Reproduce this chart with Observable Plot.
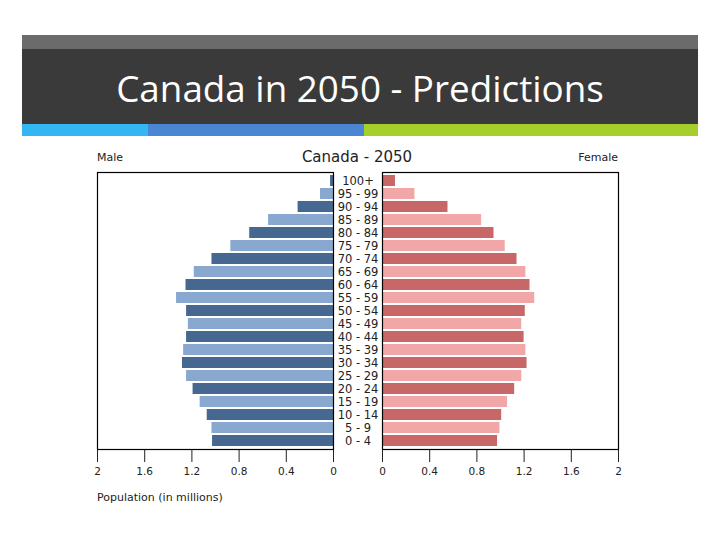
<!DOCTYPE html>
<html>
<head>
<meta charset="utf-8">
<script src="https://cdn.jsdelivr.net/npm/d3@7"></script>
<script src="https://cdn.jsdelivr.net/npm/@observablehq/plot@0.6"></script>
<style>
  html, body { margin: 0; padding: 0; background: #fff; }
  #page { position: relative; width: 720px; height: 540px; overflow: hidden; background: #fff; font-family: "DejaVu Sans", sans-serif; }
  .abs { position: absolute; }
  #title { position: absolute; left: 22px; width: 676px; top: 51px; height: 75px; line-height: 75px; text-align: center; color: #fff; font-family: "Open Sans", sans-serif; font-size: 36.8px; white-space: nowrap; }
</style>
</head>
<body>
<div id="page">
  <div class="abs" style="left:22px;top:35px;width:676px;height:14px;background:#6b6b6b"></div>
  <div class="abs" style="left:22px;top:49px;width:676px;height:75px;background:#3a3a3a"></div>
  <div class="abs" style="left:22px;top:124px;width:126px;height:12px;background:#33b6f2"></div>
  <div class="abs" style="left:148px;top:124px;width:216px;height:12px;background:#4a86d1"></div>
  <div class="abs" style="left:364px;top:124px;width:334px;height:12px;background:#a6cf2c"></div>
  <div id="title">Canada in 2050 - Predictions</div>
  <div id="male" class="abs" style="left:0;top:0"></div>
  <div id="female" class="abs" style="left:333px;top:0"></div>
  <div class="abs" style="left:97px;top:151px;font-size:11px;color:#222">Male</div>
  <div class="abs" style="left:257px;width:200px;text-align:center;top:148px;font-size:15px;color:#222">Canada - 2050</div>
  <div class="abs" style="left:518px;width:100px;text-align:right;top:151px;font-size:11px;color:#222">Female</div>
  <div class="abs" style="left:97px;top:491px;font-size:11px;color:#222">Population (in millions)</div>
</div>
<script>
const ages = ["100+","95 - 99","90 - 94","85 - 89","80 - 84","75 - 79","70 - 74","65 - 69","60 - 64","55 - 59","50 - 54","45 - 49","40 - 44","35 - 39","30 - 34","25 - 29","20 - 24","15 - 19","10 - 14","5 - 9","0 - 4"];
const male = [0.025,0.11,0.30,0.55,0.71,0.87,1.03,1.18,1.25,1.33,1.245,1.23,1.245,1.27,1.28,1.245,1.19,1.13,1.07,1.03,1.025];
const female = [0.11,0.275,0.555,0.84,0.945,1.04,1.14,1.215,1.25,1.29,1.21,1.18,1.20,1.215,1.225,1.18,1.12,1.06,1.01,0.995,0.975];
const xTicks = [0, 0.4, 0.8, 1.2, 1.6, 2];
const maleColors = ["#46678f", "#88a8cf"];
const femaleColors = ["#c86767", "#f1a7a7"];

const rows = ages.map((age, i) => ({age, male: male[i], female: female[i], shade: i % 2}));

const common = {
  height: 540,
  marginTop: 172,
  marginBottom: 91,
  style: {fontFamily: "DejaVu Sans, sans-serif", fontSize: "10.5px", color: "#222", background: "transparent"},
  y: {domain: ages, padding: 0.14, axis: null}
};

const malePlot = Plot.plot({
  ...common,
  width: 360,
  marginLeft: 97,
  marginRight: 27,
  x: {domain: [0, 2], reverse: true, ticks: xTicks, tickFormat: d => String(d), tickSize: 13, tickPadding: 5, label: null},
  marks: [
    Plot.barX(rows, {x1: 0, x2: "male", y: "age", fill: d => maleColors[d.shade]}),
    Plot.frame({stroke: "black", strokeWidth: 1.2})
  ]
});
document.getElementById("male").appendChild(malePlot);

const femalePlot = Plot.plot({
  ...common,
  width: 387,
  marginLeft: 49,
  marginRight: 102,
  x: {domain: [0, 2], ticks: xTicks, tickFormat: d => String(d), tickSize: 13, tickPadding: 5, label: null},
  marks: [
    Plot.barX(rows, {x1: 0, x2: "female", y: "age", fill: d => femaleColors[d.shade]}),
    Plot.text(rows, {x: 0, y: "age", text: "age", dx: -24.5, textAnchor: "middle", fontSize: 11.5, fill: "#222"}),
    Plot.frame({stroke: "black", strokeWidth: 1.2})
  ]
});
document.getElementById("female").appendChild(femalePlot);
</script>
</body>
</html>
